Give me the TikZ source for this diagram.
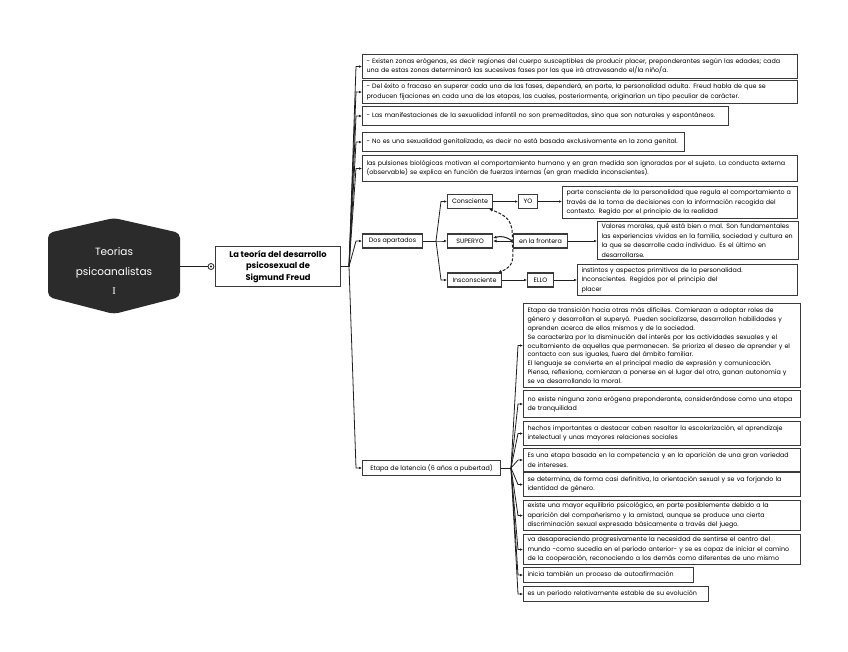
\documentclass[tikz,border=0pt]{standalone}
\usepackage{fontspec}
\setmainfont{Poppins}
\newfontfamily\romI{Liberation Serif}
\usetikzlibrary{arrows.meta,calc}
\definecolor{hexfill}{HTML}{2B2B2B}
\definecolor{edge}{HTML}{3A3A3A}
\begin{document}
\begin{tikzpicture}[x=1pt,y=-1pt,
  every node/.style={font=\fontsize{6.35}{9.4}\selectfont},
  box/.style={draw=edge, line width=1.05pt, fill=white, anchor=north west, align=left, inner xsep=4pt, inner ysep=1pt},
  lbl/.style={draw=edge, line width=1.05pt, fill=white, anchor=west, inner xsep=2pt, inner ysep=0pt, minimum height=14pt},
  conn/.style={draw=black!88, line width=0.8pt, -{Latex[length=3pt,width=2.6pt]}},
  link/.style={draw=black!88, line width=0.8pt},
  dsh/.style={draw=black!88, line width=1pt, dash pattern=on 3pt off 1.6pt, -{Latex[length=3.5pt,width=3pt]}},
  crv/.style={draw=black!88, line width=1pt, -{Latex[length=3.5pt,width=3pt]}}
]
\useasboundingbox[fill=white] (0,0) rectangle (848,651);

% root hexagon
\fill[hexfill, rounded corners=5pt] (48,233) -- (114,218) -- (180,233) -- (180,297) -- (114,314) -- (48,297) -- cycle;
\node[text=white, align=center, font=\fontsize{10.5}{19.5}\selectfont, minimum width=132pt, minimum height=80pt, inner sep=0pt] (hex) at (114,271) {Teorias\\psicoanalistas\\{\romI I}};

% Freud box
\node[circle, draw=black!88, line width=0.8pt, minimum size=6pt, inner sep=0pt, fill=white] (dot) at (211,266.5) {};
\fill[black!88] (dot.center) circle (1.1pt);
\node[draw=edge, line width=1.05pt, align=center, font=\bfseries\fontsize{8.3}{11.5}\selectfont, minimum width=125pt, minimum height=40pt, inner sep=2pt] (fr) at (278,266.5) {La teoría del desarrollo\\psicosexual de\\Sigmund Freud};
\draw[line width=1.5pt, black!88] (hex.east |- dot.west) -- (dot.west);

% level 2 boxes
\node[box, text width=427pt, minimum height=24pt] (b1) at (362,54) {- Existen zonas erógenas, es decir regiones del cuerpo susceptibles de producir placer, preponderantes según las edades; cada\\una de estas zonas determinará las sucesivas fases por las que irá atravesando el/la niño/a.};
\node[box, text width=427pt, minimum height=23pt] (b2) at (362,80) {- Del éxito o fracaso en superar cada una de las fases, dependerá, en parte, la personalidad adulta. Freud habla de que se\\producen fijaciones en cada una de las etapas, las cuales, posteriormente, originarían un tipo peculiar de carácter.};
\node[box, text width=358pt, minimum height=19pt] (b3) at (362,106) {- Las manifestaciones de la sexualidad infantil no son premeditadas, sino que son naturales y espontáneos.};
\node[box, text width=314pt, minimum height=19pt] (b4) at (362,132) {- No es una sexualidad genitalizada, es decir no está basada exclusivamente en la zona genital.};
\node[box, text width=427pt, minimum height=26pt] (b5) at (362,155) {las pulsiones biológicas motivan el comportamiento humano y en gran medida son ignoradas por el sujeto. La conducta externa\\(observable) se explica en función de fuerzas internas (en gran medida inconscientes).};
\node[lbl, minimum width=60pt] (dos) at (362,241) {Dos apartados};
\node[lbl, minimum width=138pt, minimum height=15pt] (lat) at (362,468) {Etapa de latencia (6 años a pubertad)};

\coordinate (j1) at (349,266.5);
\draw[link] (fr.east) -- (j1);
\foreach \c in {b1,b2,b3,b4,b5,dos,lat}{
  \draw[conn] (j1) -- ([xshift=-6pt]\c.west) -- (\c.west);
}

% Dos apartados subtree
\node[lbl, minimum width=45pt] (cons) at (447,201.5) {Consciente};
\node[lbl, minimum width=45pt] (sup) at (447,241) {SUPERYO};
\node[lbl, minimum width=54pt] (inc) at (447,280) {Insconsciente};
\node[lbl, minimum width=19pt] (yo) at (518,201.5) {YO};
\node[lbl, minimum width=54pt] (front) at (513,241) {en la frontera};
\node[lbl, minimum width=26pt] (ello) at (527,280) {ELLO};
\node[box, text width=227pt, minimum height=32pt] (parte) at (562,186) {parte consciente de la personalidad que regula el comportamiento a\\través de la toma de decisiones con la información recogida del\\contexto. Regido por el principio de la realidad};
\node[box, text width=193pt, minimum height=38pt] (val) at (597,221) {Valores morales, qué está bien o mal. Son fundamentales\\las experiencias vividas en la familia, sociedad y cultura en\\la que se desarrolle cada individuo. Es el último en\\desarrollarse.};
\node[box, text width=212pt, minimum height=31pt] (inst) at (577,264) {instintos y aspectos primitivos de la personalidad.\\Inconscientes. Regidos por el principio del\\placer};

\coordinate (j2) at (436,241);
\draw[link] (dos.east) -- (j2);
\foreach \c in {cons,sup,inc}{
  \draw[conn] (j2) -- ([xshift=-6pt]\c.west) -- (\c.west);
}
\draw[conn] (cons.east) -- (yo.west);
\draw[conn] (yo.east) -- (yo.east -| parte.west);
\draw[conn] (front.east) -- (front.east -| val.west);
\draw[conn] (inc.east) -- (ello.west);
\draw[conn] (ello.east) -- (ello.east -| inst.west);

\draw[crv] ([xshift=-1pt]front.west) to[out=140,in=15] ([yshift=3pt]sup.east);
\draw[crv] ([xshift=-1pt]front.west) -- (sup.east);
\draw[dsh] ([xshift=-1pt,yshift=-1pt]front.west) to[out=85,in=-20,looseness=1.3] ([xshift=-4pt]cons.south east);
\draw[dsh] ([xshift=-1pt,yshift=1pt]front.west) to[out=-85,in=20,looseness=1.3] ([xshift=-4pt]inc.north east);

% latencia subtree
\node[box, text width=269pt, minimum height=84pt, font=\fontsize{6.35}{8.9}\selectfont] (l1) at (523,303) {Etapa de transición hacia otras más difíciles. Comienzan a adoptar roles de\\género y desarrollan el superyó. Pueden socializarse, desarrollan habilidades y\\aprenden acerca de ellos mismos y de la sociedad.\\Se caracteriza por la disminución del interés por las actividades sexuales y el\\ocultamiento de aquellas que permanecen. Se prioriza el deseo de aprender y el\\contacto con sus iguales, fuera del ámbito familiar.\\El lenguaje se convierte en el principal medio de expresión y comunicación.\\Piensa, reflexiona, comienzan a ponerse en el lugar del otro, ganan autonomía y\\se va desarrollando la moral.};
\node[box, text width=269pt, minimum height=27pt] (l2) at (523,390) {no existe ninguna zona erógena preponderante, considerándose como una etapa\\de tranquilidad};
\node[box, text width=269pt, minimum height=24pt] (l3) at (523,421) {hechos importantes a destacar caben resaltar la escolarización, el aprendizaje\\intelectual y unas mayores relaciones sociales};
\node[box, text width=269pt, minimum height=23pt] (l4) at (523,448) {Es una etapa basada en la competencia y en la aparición de una gran variedad\\de intereses.};
\node[box, text width=269pt, minimum height=24pt] (l5) at (523,472) {se determina, de forma casi definitiva, la orientación sexual y se va forjando la\\identidad de género.};
\node[box, text width=269pt, minimum height=30pt] (l6) at (523,500) {existe una mayor equilibrio psicológico, en parte posiblemente debido a la\\aparición del compañerismo y la amistad, aunque se produce una cierta\\discriminación sexual expresada básicamente a través del juego.};
\node[box, text width=269pt, minimum height=30pt] (l7) at (523,534) {va desapareciendo progresivamente la necesidad de sentirse el centro del\\mundo -como sucedía en el período anterior- y se es capaz de iniciar el camino\\de la cooperación, reconociendo a los demás como diferentes de uno mismo};
\node[box, text width=162pt, minimum height=15pt] (l8) at (523,567) {inicia también un proceso de autoafirmación};
\node[box, text width=177pt, minimum height=15pt] (l9) at (523,586) {es un período relativamente estable de su evolución};

\coordinate (j3) at (511,468);
\draw[link] (lat.east) -- (j3);
\foreach \c in {l1,l2,l3,l4,l5,l6,l7,l8,l9}{
  \draw[conn] (j3) -- ([xshift=-5pt]\c.west) -- (\c.west);
}
\end{tikzpicture}
\end{document}
